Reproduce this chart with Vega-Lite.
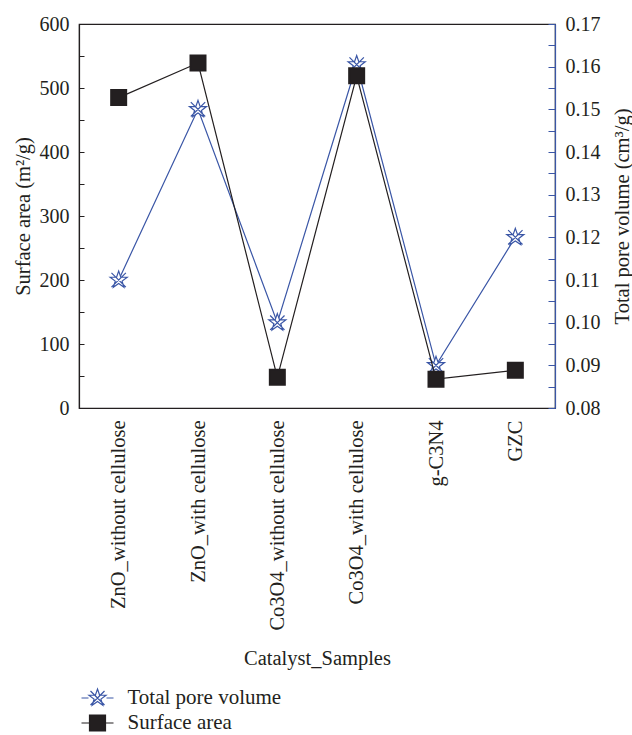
{
  "$schema": "https://vega.github.io/schema/vega-lite/v6.json",
  "width": 476,
  "height": 384,
  "autosize": "none",
  "padding": {"left": 79, "top": 24, "right": 77, "bottom": 327},
  "background": "white",
  "data": {
    "values": [
      {"sample": "ZnO_without cellulose", "surface": 485, "pore": 0.110},
      {"sample": "ZnO_with cellulose", "surface": 539, "pore": 0.150},
      {"sample": "Co3O4_without cellulose", "surface": 48, "pore": 0.100},
      {"sample": "Co3O4_with cellulose", "surface": 519, "pore": 0.1605},
      {"sample": "g-C3N4", "surface": 45, "pore": 0.090},
      {"sample": "GZC", "surface": 59, "pore": 0.120}
    ]
  },
  "config": {
    "font": "Liberation Serif",
    "view": {"stroke": "#231f20", "strokeWidth": 1.2},
    "axis": {
      "labelFont": "Liberation Serif",
      "titleFont": "Liberation Serif",
      "labelFontSize": 20,
      "titleFontSize": 20.5,
      "titleFontWeight": "normal",
      "labelColor": "#231f20",
      "titleColor": "#231f20",
      "labelLimit": 400,
      "grid": false
    },
    "legend": {
      "labelFont": "Liberation Serif",
      "labelFontSize": 21,
      "labelColor": "#231f20",
      "labelLimit": 400
    }
  },
  "encoding": {
    "x": {
      "field": "sample",
      "type": "nominal",
      "sort": null,
      "scale": {"type": "point", "padding": 0.5},
      "axis": {
        "title": "Catalyst_Samples",
        "labelAngle": -90,
        "labelFontSize": 20.5,
        "ticks": false,
        "domainColor": "#231f20",
        "labelPadding": 12,
        "titleY": 240,
        "titleBaseline": "top"
      }
    }
  },
  "layer": [
    {
      "encoding": {
        "y": {
          "field": "pore",
          "type": "quantitative",
          "scale": {"domain": [0.08, 0.17], "nice": false, "zero": false},
          "axis": {
            "orient": "right",
            "title": "Total pore volume (cm³/g)",
            "titleAngle": 270,
            "titleBaseline": "top",
            "values": [0.08, 0.085, 0.09, 0.095, 0.1, 0.105, 0.11, 0.115, 0.12, 0.125, 0.13, 0.135, 0.14, 0.145, 0.15, 0.155, 0.16, 0.165, 0.17],
            "labelExpr": "round(datum.value*1000) % 10 === 0 ? format(datum.value, '.2f') : ''",
            "domainColor": "#3a56a6",
            "domainWidth": 1.2,
            "tickColor": "#3a56a6",
            "tickSize": -7,
            "labelPadding": 17,
            "titlePadding": 12
          }
        }
      },
      "layer": [
        {
          "mark": {"type": "line", "strokeWidth": 1.2},
          "encoding": {
            "color": {
              "datum": "Total pore volume",
              "type": "nominal",
              "scale": {"domain": ["Total pore volume", "Surface area"], "range": ["#3a56a6", "#231f20"]},
              "legend": {
                "title": null,
                "orient": "none",
                "legendX": 7.5,
                "legendY": 663,
                "padding": 0,
                "rowPadding": 4,
                "labelOffset": 19,
                "symbolSize": 400,
                "encode": {
                  "symbols": {
                    "update": {
                      "shape": {"signal": "datum.value === 'Surface area' ? 'M-1.6,0H-0.8M0.8,0H1.6M-0.8,-0.8H0.8V0.8H-0.8Z' : 'M-1.6,0H-0.9M0.9,0H1.6M0,-0.9L0.212,-0.292L0.856,-0.278L0.342,0.112L0.529,0.728L0,0.36L-0.529,0.728L-0.342,0.112L-0.856,-0.278L-0.212,-0.292ZM-0.7,-0.7L0.7,0.7M0.7,-0.7L-0.7,0.7'"},
                      "fill": {"signal": "datum.value === 'Surface area' ? '#231f20' : 'white'"},
                      "stroke": {"signal": "datum.value === 'Surface area' ? '#231f20' : '#3a56a6'"},
                      "strokeWidth": {"value": 1.2},
                      "size": {"value": 400},
                      "opacity": {"value": 1},
                      "fillOpacity": {"value": 1},
                      "strokeOpacity": {"value": 1}
                    }
                  }
                }
              }
            }
          }
        },
        {
          "mark": {
            "type": "point",
            "shape": "M0,-1L0.235,-0.324L0.951,-0.309L0.38,0.124L0.588,0.809L0,0.4L-0.588,0.809L-0.38,0.124L-0.951,-0.309L-0.235,-0.324ZM-0.8,-0.8L0.8,0.8M0.8,-0.8L-0.8,0.8",
            "size": 324,
            "fill": "white",
            "fillOpacity": 1,
            "stroke": "#3a56a6",
            "strokeWidth": 1.2,
            "opacity": 1
          }
        }
      ]
    },
    {
      "encoding": {
        "y": {
          "field": "surface",
          "type": "quantitative",
          "scale": {"domain": [0, 600], "nice": false},
          "axis": {
            "orient": "left",
            "title": "Surface area (m²/g)",
            "values": [0, 50, 100, 150, 200, 250, 300, 350, 400, 450, 500, 550, 600],
            "labelExpr": "datum.value % 100 === 0 ? datum.label : ''",
            "domainColor": "#231f20",
            "domainWidth": 1.2,
            "tickColor": "#231f20",
            "tickSize": -5,
            "labelPadding": 15,
            "titlePadding": 6
          }
        }
      },
      "layer": [
        {
          "mark": {"type": "line", "strokeWidth": 1.2},
          "encoding": {
            "color": {"datum": "Surface area", "type": "nominal"}
          }
        },
        {
          "mark": {
            "type": "point",
            "shape": "square",
            "size": 225,
            "filled": true,
            "fill": "#231f20",
            "stroke": "#231f20",
            "opacity": 1
          }
        }
      ]
    }
  ],
  "resolve": {"scale": {"y": "independent"}, "axis": {"y": "independent"}}
}
